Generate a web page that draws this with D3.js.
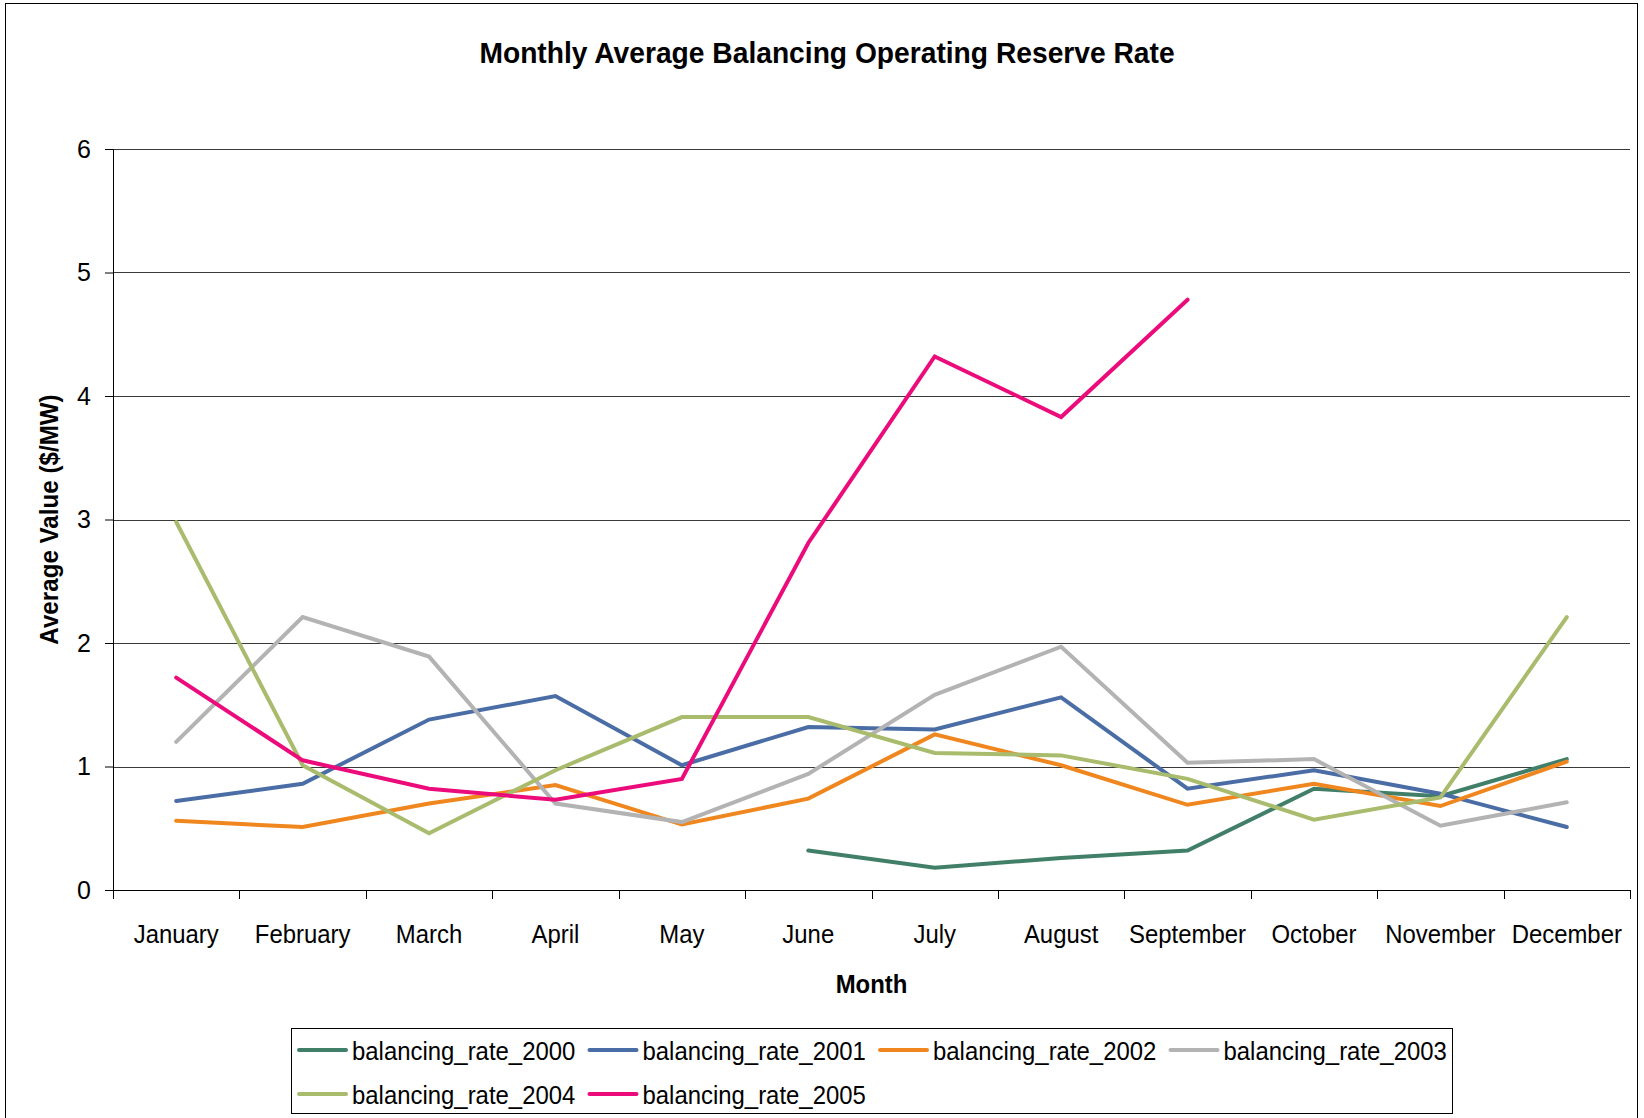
<!DOCTYPE html>
<html>
<head>
<meta charset="utf-8">
<script src="https://cdn.jsdelivr.net/npm/d3@7"></script>
<style>
	body { margin: 0; background: #fff; }
	text { fill: #000; font-family: 'Liberation Sans Narrow', 'Arial Narrow', 'Liberation Sans', Arial, sans-serif; }
</style>
</head>
<body>
<div id="chart"></div>
<script>
var months = ['January', 'February', 'March', 'April', 'May', 'June', 'July', 'August', 'September', 'October', 'November', 'December'];
var yTicks = [0, 1, 2, 3, 4, 5, 6];

var rate2000 = [null, null, null, null, null, 0.32, 0.18, 0.26, 0.32, 0.82, 0.76, 1.06];
var rate2001 = [0.72, 0.86, 1.38, 1.57, 1.01, 1.32, 1.30, 1.56, 0.82, 0.97, 0.78, 0.51];
var rate2002 = [0.56, 0.51, 0.70, 0.85, 0.53, 0.74, 1.26, 1.01, 0.69, 0.86, 0.68, 1.04];
var rate2003 = [1.20, 2.21, 1.89, 0.70, 0.55, 0.94, 1.58, 1.97, 1.03, 1.06, 0.52, 0.71];
var rate2004 = [2.98, 1.01, 0.46, 0.97, 1.40, 1.40, 1.11, 1.09, 0.90, 0.57, 0.75, 2.21];
var rate2005 = [1.72, 1.05, 0.82, 0.73, 0.90, 2.81, 4.32, 3.83, 4.78, null, null, null];

var seriesNames = ['balancing_rate_2000', 'balancing_rate_2001', 'balancing_rate_2002', 'balancing_rate_2003', 'balancing_rate_2004', 'balancing_rate_2005'];
var seriesValues = [rate2000, rate2001, rate2002, rate2003, rate2004, rate2005];
var seriesColors = ['#417f69', '#4a6da6', '#ef861e', '#b3b3b3', '#a9bb6c', '#ec0b7b'];

var w = 1644,
	h = 1118;

var margin = { top: 149, right: 14, bottom: 228, left: 113 },
	width = w - margin.left - margin.right,
	height = h - margin.top - margin.bottom;

// no narrow font installed, so squeeze the regular one a little
var squeeze = 0.92;

var svg = d3.select('#chart').append('svg').attr('width', w).attr('height', h);

// outer frame
svg.append('rect')
	.attr('x', 5.5).attr('y', 3.5)
	.attr('width', 1632).attr('height', 1130)
	.attr('fill', 'none').attr('stroke', '#000').attr('stroke-width', 1);

var xScale = d3.scaleBand().domain(months).range([ 0, width ]);
var yScale = d3.scaleLinear().domain([ 0, 6 ]).range([ height, 0 ]);

var g = svg.append('g').attr('transform', 'translate(' + margin.left + ',' + margin.top + ')');

// gridlines
g.selectAll('.grid')
	.data(yTicks.filter(function(d) { return d > 0; }))
	.enter()
	.append('line')
	.attr('x1', 0).attr('x2', width)
	.attr('y1', function(d) { return Math.round(yScale(d)) + 0.5; })
	.attr('y2', function(d) { return Math.round(yScale(d)) + 0.5; })
	.attr('stroke', '#3a3a3a')
	.attr('stroke-width', 1);

// y axis
var yAxis = g.append('g').call(d3.axisLeft(yScale).tickValues(yTicks).tickFormat(d3.format('d')).tickSize(8).tickPadding(14));
yAxis.select('.domain').attr('stroke', '#000');
yAxis.selectAll('text')
	.style('font-family', "'Liberation Sans', Arial, sans-serif")
	.style('font-size', '25px')
	.attr('fill', '#000');

// x axis, ticks on the band edges
var xAxisG = g.append('g').attr('transform', 'translate(0,' + height + ')');
xAxisG.append('line').attr('x1', 0).attr('x2', width).attr('y1', 0.5).attr('y2', 0.5).attr('stroke', '#000');
var edges = months.map(function(m) { return xScale(m); }).concat([ width ]);
xAxisG.selectAll('.xt')
	.data(edges)
	.enter()
	.append('line')
	.attr('x1', function(d) { return Math.round(d) + 0.5; })
	.attr('x2', function(d) { return Math.round(d) + 0.5; })
	.attr('y1', 0).attr('y2', 9)
	.attr('stroke', '#000');
xAxisG.selectAll('.xl')
	.data(months)
	.enter()
	.append('text')
	.attr('transform', function(d) {
		return 'translate(' + (xScale(d) + xScale.bandwidth() / 2) + ',53) scale(' + squeeze + ',1)';
	})
	.attr('text-anchor', 'middle')
	.style('font-size', '26px')
	.text(function(d) { return d; });

// lines
var line = d3.line()
	.defined(function(d) { return d != null; })
	.x(function(d, i) { return xScale(months[i]) + xScale.bandwidth() / 2; })
	.y(function(d) { return yScale(d); });

g.selectAll('.series')
	.data(seriesValues)
	.enter()
	.append('path')
	.attr('class', 'series')
	.attr('d', line)
	.attr('fill', 'none')
	.attr('stroke', function(d, i) { return seriesColors[i]; })
	.attr('stroke-width', 4)
	.attr('stroke-linecap', 'round');

// titles
svg.append('text')
	.attr('transform', 'translate(827,63) scale(0.94,1)')
	.attr('text-anchor', 'middle')
	.style('font-size', '30px').style('font-weight', 'bold')
	.text('Monthly Average Balancing Operating Reserve Rate');

svg.append('text')
	.attr('transform', 'translate(' + (margin.left + width / 2) + ',993) scale(' + squeeze + ',1)')
	.attr('text-anchor', 'middle')
	.style('font-size', '26px').style('font-weight', 'bold')
	.text('Month');

svg.append('text')
	.attr('transform', 'translate(58,' + (margin.top + height / 2) + ') rotate(-90) scale(0.93,1)')
	.attr('text-anchor', 'middle')
	.style('font-size', '26px').style('font-weight', 'bold')
	.text('Average Value ($/MW)');

// legend
var legend = svg.append('g');
legend.append('rect')
	.attr('x', 291.5).attr('y', 1028.5)
	.attr('width', 1161).attr('height', 85)
	.attr('fill', '#fff').attr('stroke', '#000');

var items = legend.selectAll('.item')
	.data(seriesNames)
	.enter()
	.append('g')
	.attr('transform', function(d, i) {
		return 'translate(' + (299 + (i % 4) * 290.5) + ',' + (1050 + Math.floor(i / 4) * 44) + ')';
	});
items.append('line')
	.attr('x1', 0).attr('x2', 47)
	.attr('stroke', function(d, i) { return seriesColors[i]; })
	.attr('stroke-width', 4)
	.attr('stroke-linecap', 'round');
items.append('text')
	.attr('transform', 'translate(53,10) scale(' + squeeze + ',1)')
	.style('font-size', '26px')
	.text(function(d) { return d; });
</script>
</body>
</html>
